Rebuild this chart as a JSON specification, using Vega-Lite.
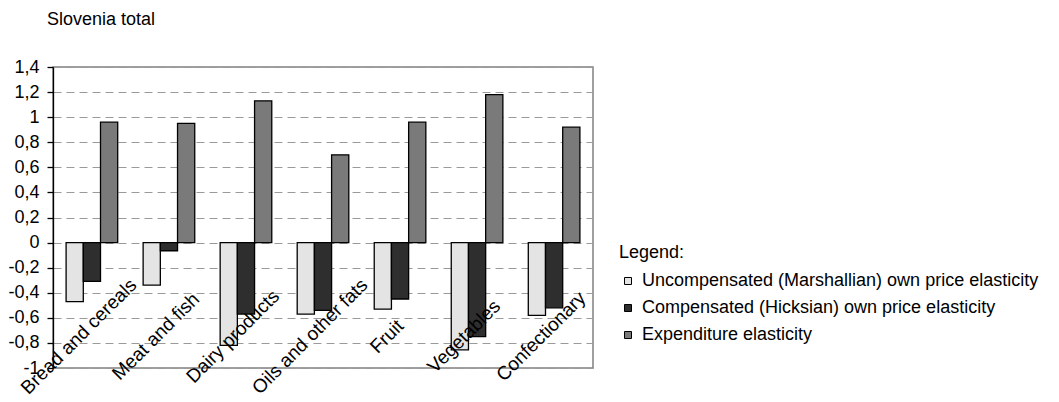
{
  "$schema": "https://vega.github.io/schema/vega-lite/v6.json",
  "autosize": {"type": "none"},
  "padding": {"left": 53, "top": 67, "right": 466, "bottom": 34},
  "width": 540,
  "height": 301,
  "title": {
    "text": "Slovenia total",
    "anchor": "start",
    "frame": "group",
    "font": "Liberation Sans",
    "fontSize": 18,
    "fontWeight": "normal",
    "color": "#000000",
    "baseline": "alphabetic",
    "dx": -6,
    "offset": 15
  },
  "data": {
    "values": [
      {"category": "Bread and cereals", "measure": "Uncompensated (Marshallian) own price elasticity", "value": -0.47},
      {"category": "Bread and cereals", "measure": "Compensated (Hicksian) own price elasticity", "value": -0.31},
      {"category": "Bread and cereals", "measure": "Expenditure elasticity", "value": 0.96},
      {"category": "Meat and fish", "measure": "Uncompensated (Marshallian) own price elasticity", "value": -0.34},
      {"category": "Meat and fish", "measure": "Compensated (Hicksian) own price elasticity", "value": -0.065},
      {"category": "Meat and fish", "measure": "Expenditure elasticity", "value": 0.95},
      {"category": "Dairy products", "measure": "Uncompensated (Marshallian) own price elasticity", "value": -0.82},
      {"category": "Dairy products", "measure": "Compensated (Hicksian) own price elasticity", "value": -0.57},
      {"category": "Dairy products", "measure": "Expenditure elasticity", "value": 1.13},
      {"category": "Oils and other fats", "measure": "Uncompensated (Marshallian) own price elasticity", "value": -0.57},
      {"category": "Oils and other fats", "measure": "Compensated (Hicksian) own price elasticity", "value": -0.54},
      {"category": "Oils and other fats", "measure": "Expenditure elasticity", "value": 0.70},
      {"category": "Fruit", "measure": "Uncompensated (Marshallian) own price elasticity", "value": -0.53},
      {"category": "Fruit", "measure": "Compensated (Hicksian) own price elasticity", "value": -0.45},
      {"category": "Fruit", "measure": "Expenditure elasticity", "value": 0.96},
      {"category": "Vegetables", "measure": "Uncompensated (Marshallian) own price elasticity", "value": -0.855},
      {"category": "Vegetables", "measure": "Compensated (Hicksian) own price elasticity", "value": -0.75},
      {"category": "Vegetables", "measure": "Expenditure elasticity", "value": 1.18},
      {"category": "Confectionary", "measure": "Uncompensated (Marshallian) own price elasticity", "value": -0.58},
      {"category": "Confectionary", "measure": "Compensated (Hicksian) own price elasticity", "value": -0.52},
      {"category": "Confectionary", "measure": "Expenditure elasticity", "value": 0.92}
    ]
  },
  "mark": {"type": "bar", "stroke": "#000000", "strokeWidth": 1.3, "width": {"band": 1}},
  "encoding": {
    "x": {
      "field": "category",
      "type": "nominal",
      "sort": ["Bread and cereals", "Meat and fish", "Dairy products", "Oils and other fats", "Fruit", "Vegetables", "Confectionary"],
      "scale": {"paddingInner": 0.33, "paddingOuter": 0.17},
      "axis": {
        "title": null,
        "zindex": 1,
        "domain": false,
        "ticks": false,
        "labelAngle": -45,
        "labelAlign": "center",
        "labelBaseline": "middle",
        "labelPadding": -32,
        "labelOffset": -13,
        "labelFont": "Liberation Sans",
        "labelFontSize": 19,
        "labelColor": "#000000",
        "labelOverlap": false,
        "labelBound": false,
        "labelFlush": false,
        "labelLimit": 0
      }
    },
    "xOffset": {
      "field": "measure",
      "type": "nominal",
      "sort": ["Uncompensated (Marshallian) own price elasticity", "Compensated (Hicksian) own price elasticity", "Expenditure elasticity"],
      "scale": {"paddingInner": 0, "paddingOuter": 0}
    },
    "y": {
      "field": "value",
      "type": "quantitative",
      "scale": {"domain": [-1, 1.4], "nice": false, "zero": false},
      "axis": {
        "title": null,
        "values": [-1, -0.8, -0.6, -0.4, -0.2, 0, 0.2, 0.4, 0.6, 0.8, 1, 1.2, 1.4],
        "format": ".1~f",
        "domain": true,
        "domainColor": "#000000",
        "domainWidth": 1.3,
        "ticks": true,
        "tickSize": 6,
        "tickColor": "#000000",
        "tickWidth": 1.3,
        "labelPadding": 8,
        "labelFont": "Liberation Sans",
        "labelFontSize": 18,
        "labelColor": "#000000",
        "grid": true,
        "gridColor": "#9a9a9a",
        "gridDash": [8, 5],
        "gridWidth": 1
      }
    },
    "color": {
      "field": "measure",
      "type": "nominal",
      "sort": ["Uncompensated (Marshallian) own price elasticity", "Compensated (Hicksian) own price elasticity", "Expenditure elasticity"],
      "scale": {
        "domain": ["Uncompensated (Marshallian) own price elasticity", "Compensated (Hicksian) own price elasticity", "Expenditure elasticity"],
        "range": ["#e4e4e4", "#2e2e2e", "#7a7a7a"]
      },
      "legend": {
        "title": "Legend:",
        "orient": "none",
        "legendX": 566,
        "legendY": 177,
        "symbolType": "square",
        "symbolSize": 49,
        "symbolStrokeColor": "#000000",
        "symbolStrokeWidth": 1,
        "symbolOpacity": 1,
        "labelOffset": 5,
        "labelFont": "Liberation Sans",
        "labelFontSize": 18,
        "labelColor": "#000000",
        "labelLimit": 0,
        "titleFont": "Liberation Sans",
        "titleFontSize": 18,
        "titleFontWeight": "normal",
        "titleColor": "#000000",
        "titlePadding": 10,
        "rowPadding": 9
      }
    }
  },
  "config": {
    "locale": {"number": {"decimal": ",", "thousands": ".", "grouping": [3], "currency": ["", " €"], "minus": "-"}},
    "view": {"stroke": "#808080", "strokeWidth": 1.5},
    "font": "Liberation Sans"
  }
}
